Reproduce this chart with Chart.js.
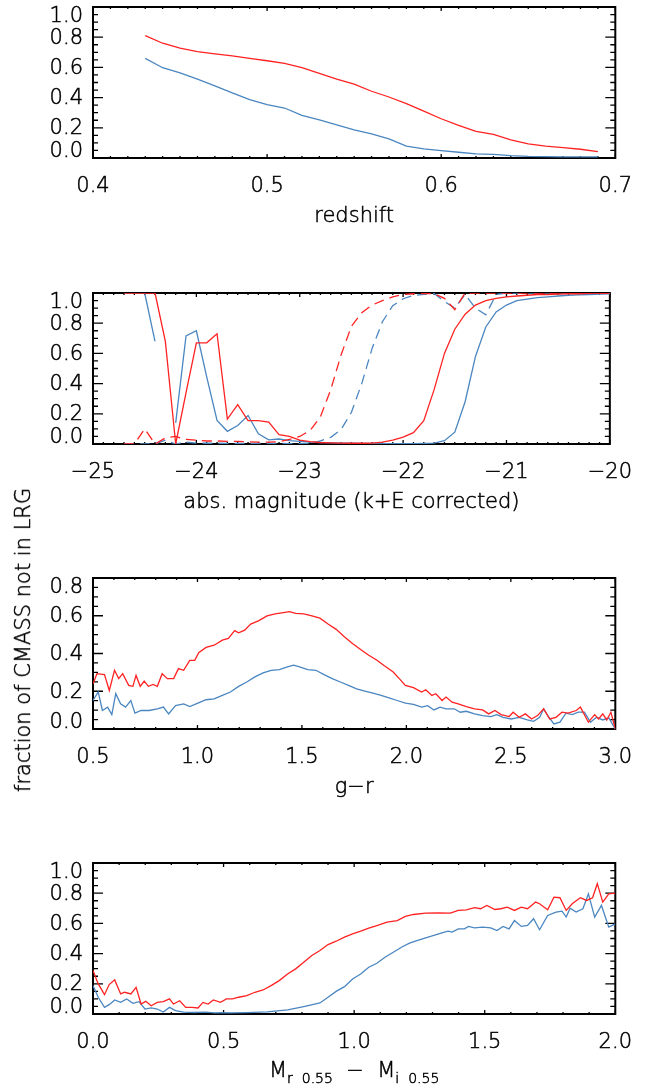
<!DOCTYPE html>
<html>
<head>
<meta charset="utf-8">
<script src="https://cdn.jsdelivr.net/npm/chart.js@4.4.1/dist/chart.umd.min.js"></script>
<style>
  html, body { margin: 0; padding: 0; background: #fff; }
  body { width: 648px; height: 1088px; position: relative; overflow: hidden; }
  canvas { position: absolute; left: 0; }
  #ytitle {
    position: absolute; left: 23px; top: 640px;
    transform: translate(-50%, -50%) rotate(-90deg);
    white-space: nowrap; font-family: "DejaVu Sans", sans-serif; font-weight: 200; font-size: 21px; color: #000;
    -webkit-text-stroke: 0.5px #000;
  }
</style>
</head>
<body>
<canvas id="p1" width="648" height="250" style="top:0px"></canvas>
<canvas id="p2" width="648" height="250" style="top:286px"></canvas>
<canvas id="p3" width="648" height="250" style="top:571px"></canvas>
<canvas id="p4" width="648" height="250" style="top:856px"></canvas>
<div id="ytitle">fraction of CMASS not in LRG</div>
<script>
// panel 1: redshift
const zBins = [0.43, 0.44, 0.45, 0.46, 0.47, 0.48, 0.49, 0.50, 0.51, 0.52, 0.53, 0.54, 0.55, 0.56,
  0.57, 0.58, 0.59, 0.60, 0.61, 0.62, 0.63, 0.64, 0.65, 0.66, 0.67, 0.68, 0.69];
const zRed = [0.81, 0.76, 0.727, 0.704, 0.689, 0.676, 0.66, 0.644, 0.627, 0.598, 0.56, 0.522, 0.489, 0.442,
  0.404, 0.36, 0.311, 0.26, 0.216, 0.176, 0.156, 0.12, 0.093, 0.078, 0.069, 0.058, 0.042];
const zBlue = [0.66, 0.598, 0.564, 0.522, 0.478, 0.431, 0.387, 0.353, 0.331, 0.282, 0.253, 0.22, 0.187, 0.16,
  0.127, 0.078, 0.06, 0.049, 0.038, 0.027, 0.024, 0.016, 0.011, 0.009, 0.008, 0.007, 0.007];
const zTicks = [0.4, 0.5, 0.6, 0.7];

// panel 2: absolute magnitude, solid and dashed curves
const magBins = [-24.7, -24.6, -24.5, -24.4, -24.3, -24.2, -24.1, -24.0, -23.9, -23.8, -23.7, -23.6,
  -23.5, -23.4, -23.3, -23.2, -23.1, -23.0, -22.9, -22.8, -22.7, -22.6, -22.5, -22.4, -22.3, -22.2,
  -22.1, -22.0, -21.9, -21.8, -21.7, -21.6, -21.5, -21.4, -21.3, -21.2, -21.1, -21.0, -20.9, -20.8,
  -20.7, -20.6, -20.5, -20.4, -20.3, -20.2, -20.1, -20.0];
const magRed = [1, 1, 1, 1, 0.68, 0.0, 0.34, 0.67, 0.67, 0.73, 0.165, 0.26,
  0.155, 0.155, 0.145, 0.062, 0.05, 0.025, 0.016, 0.01, 0.008, 0.006, 0.005, 0.005, 0.006, 0.012,
  0.025, 0.045, 0.075, 0.155, 0.36, 0.6, 0.76, 0.86, 0.92, 0.95, 0.965, 0.975, 0.98, 0.985,
  0.99, 0.99, 0.992, 0.995, 0.995, 0.997, 1, 1];
const magBlue = [1, 1, 1, 0.68, null, 0.14, 0.716, 0.75, 0.444, 0.156, 0.084, 0.122,
  0.189, 0.067, 0.027, 0.033, 0.022, 0.018, 0.012, 0.01, 0.008, 0.006, 0.005, 0.004, 0.004, 0.003,
  0.003, 0.003, 0.003, 0.004, 0.006, 0.022, 0.078, 0.28, 0.58, 0.775, 0.875, 0.92, 0.95, 0.96,
  0.97, 0.975, 0.98, 0.985, 0.987, 0.99, 0.993, 0.995];
const magRedDash = [0, 0, 0.1, 0.0, 0.04, 0.05, 0.03, 0.025, 0.02, 0.02, 0.018, 0.018,
  0.015, 0.012, 0.012, 0.015, 0.03, 0.05, 0.09, 0.18, 0.36, 0.59, 0.78, 0.87, 0.92, 0.95,
  0.975, 0.99, 0.995, 0.997, 0.995, 0.965, 0.89, 1, 1, 1, 1, 1, 1, 1,
  1, 1, 1, 1, 1, 1, 1, 1];
const magBlueDash = [0, 0, 0, 0.0, 0.025, 0.0, 0.012, 0.006, 0.005, 0.005, 0.004, 0.004,
  0.004, 0.004, 0.004, 0.004, 0.003, 0.003, 0.005, 0.02, 0.044, 0.096, 0.21, 0.4, 0.633, 0.81,
  0.916, 0.962, 0.984, 0.991, 0.996, 0.944, 0.9, 0.99, 0.9, 0.856, 0.99, 1, 1, 1,
  1, 1, 1, 1, 1, 1, 1, 1];
const magTicks = [-25, -24, -23, -22, -21, -20];

// panel 3: g-r colour
const grRedX = [0.5, 0.519, 0.555, 0.578, 0.603, 0.623, 0.642, 0.671, 0.691, 0.706, 0.726, 0.745, 0.765,
  0.788, 0.808, 0.831, 0.856, 0.886, 0.909, 0.934, 0.963, 0.987, 1.006, 1.041, 1.08, 1.119, 1.148, 1.178,
  1.197, 1.226, 1.255, 1.294, 1.333, 1.372, 1.411, 1.44, 1.47, 1.509, 1.548, 1.586, 1.625, 1.664, 1.703,
  1.742, 1.781, 1.82, 1.859, 1.898, 1.937, 1.966, 1.995, 2.034, 2.073, 2.093, 2.122, 2.141, 2.171, 2.19,
  2.219, 2.248, 2.287, 2.326, 2.365, 2.394, 2.424, 2.453, 2.492, 2.511, 2.54, 2.57, 2.599, 2.628, 2.657,
  2.686, 2.716, 2.745, 2.774, 2.813, 2.833, 2.871, 2.901, 2.92, 2.94, 2.959, 2.979, 3.0];
const grRed = [0.24, 0.293, 0.288, 0.204, 0.311, 0.267, 0.293, 0.231, 0.226, 0.284, 0.226, 0.254, 0.226,
  0.236, 0.226, 0.293, 0.267, 0.267, 0.32, 0.311, 0.364, 0.364, 0.404, 0.432, 0.444, 0.471, 0.48, 0.521,
  0.51, 0.524, 0.556, 0.574, 0.599, 0.61, 0.617, 0.622, 0.613, 0.61, 0.599, 0.587, 0.556, 0.528, 0.489,
  0.453, 0.421, 0.391, 0.364, 0.332, 0.302, 0.267, 0.231, 0.219, 0.196, 0.208, 0.178, 0.187, 0.151, 0.169,
  0.142, 0.133, 0.119, 0.107, 0.101, 0.08, 0.098, 0.076, 0.066, 0.089, 0.062, 0.08, 0.053, 0.071, 0.107,
  0.053, 0.062, 0.089, 0.084, 0.098, 0.116, 0.036, 0.076, 0.053, 0.08, 0.048, 0.089, 0.0];
const grBlueX = [0.5, 0.525, 0.545, 0.57, 0.59, 0.609, 0.632, 0.656, 0.681, 0.701, 0.73, 0.769, 0.808,
  0.837, 0.862, 0.895, 0.934, 0.963, 1.002, 1.041, 1.08, 1.119, 1.158, 1.197, 1.236, 1.275, 1.314, 1.353,
  1.392, 1.431, 1.46, 1.489, 1.528, 1.567, 1.606, 1.645, 1.684, 1.723, 1.762, 1.801, 1.84, 1.879, 1.917,
  1.956, 1.995, 2.034, 2.073, 2.102, 2.132, 2.161, 2.19, 2.229, 2.258, 2.287, 2.326, 2.365, 2.404, 2.433,
  2.463, 2.502, 2.54, 2.579, 2.609, 2.638, 2.657, 2.677, 2.706, 2.735, 2.764, 2.794, 2.823, 2.852, 2.881,
  2.91, 2.94, 2.969, 3.0];
const grBlue = [0.151, 0.196, 0.098, 0.116, 0.076, 0.187, 0.133, 0.116, 0.151, 0.084, 0.098, 0.098, 0.107,
  0.116, 0.08, 0.124, 0.133, 0.119, 0.137, 0.155, 0.16, 0.178, 0.196, 0.226, 0.249, 0.276, 0.297, 0.311,
  0.315, 0.329, 0.338, 0.329, 0.315, 0.311, 0.288, 0.267, 0.249, 0.231, 0.213, 0.201, 0.19, 0.178, 0.165,
  0.151, 0.137, 0.13, 0.116, 0.124, 0.101, 0.116, 0.107, 0.107, 0.089, 0.094, 0.08, 0.071, 0.066, 0.076,
  0.062, 0.053, 0.062, 0.048, 0.041, 0.062, 0.107, 0.071, 0.027, 0.036, 0.084, 0.076, 0.089, 0.089, 0.036,
  0.062, 0.048, 0.059, 0.0];
const grTicks = [0.5, 1.0, 1.5, 2.0, 2.5, 3.0];

// panel 4: M_r - M_i at z=0.55
const riRedX = [0, 0.02, 0.044, 0.062, 0.083, 0.106, 0.121, 0.145, 0.165, 0.184, 0.202, 0.223, 0.246,
  0.269, 0.293, 0.308, 0.332, 0.355, 0.379, 0.402, 0.421, 0.441, 0.461, 0.488, 0.511, 0.534, 0.558, 0.589,
  0.62, 0.651, 0.682, 0.713, 0.745, 0.776, 0.807, 0.838, 0.869, 0.9, 0.931, 0.963, 0.994, 1.025, 1.056,
  1.087, 1.126, 1.165, 1.196, 1.227, 1.274, 1.321, 1.368, 1.399, 1.43, 1.461, 1.484, 1.508, 1.539, 1.562,
  1.586, 1.614, 1.64, 1.664, 1.695, 1.71, 1.741, 1.765, 1.788, 1.812, 1.835, 1.866, 1.89, 1.913, 1.931,
  1.952, 1.975, 2.0];
const riRed = [0.288, 0.199, 0.128, 0.195, 0.226, 0.133, 0.144, 0.133, 0.177, 0.066, 0.084, 0.055, 0.077,
  0.082, 0.1, 0.066, 0.088, 0.044, 0.044, 0.04, 0.077, 0.066, 0.093, 0.077, 0.1, 0.1, 0.111, 0.122,
  0.144, 0.159, 0.188, 0.221, 0.265, 0.299, 0.343, 0.387, 0.42, 0.46, 0.482, 0.509, 0.531, 0.549, 0.569,
  0.586, 0.608, 0.619, 0.646, 0.659, 0.668, 0.67, 0.668, 0.686, 0.69, 0.704, 0.697, 0.719, 0.692, 0.697,
  0.708, 0.686, 0.708, 0.697, 0.741, 0.73, 0.69, 0.774, 0.77, 0.686, 0.73, 0.77, 0.752, 0.77, 0.863,
  0.741, 0.796, 0.801];
const riBlueX = [0, 0.02, 0.044, 0.062, 0.083, 0.106, 0.129, 0.153, 0.176, 0.199, 0.223, 0.246, 0.269,
  0.293, 0.316, 0.347, 0.386, 0.433, 0.464, 0.495, 0.526, 0.589, 0.667, 0.745, 0.807, 0.869, 0.9, 0.931,
  0.963, 0.994, 1.025, 1.056, 1.087, 1.118, 1.15, 1.181, 1.212, 1.243, 1.274, 1.305, 1.336, 1.36, 1.375,
  1.399, 1.422, 1.438, 1.461, 1.492, 1.523, 1.547, 1.57, 1.593, 1.614, 1.64, 1.664, 1.687, 1.71, 1.741,
  1.773, 1.796, 1.812, 1.827, 1.85, 1.876, 1.897, 1.921, 1.947, 1.975, 2.0];
const riBlue = [0.188, 0.111, 0.044, 0.062, 0.093, 0.077, 0.1, 0.071, 0.082, 0.033, 0.04, 0.033, 0.013,
  0.044, 0.022, 0.013, 0.01, 0.012, 0.007, 0.009, 0.007, 0.009, 0.014, 0.027, 0.049, 0.073, 0.111, 0.15,
  0.181, 0.232, 0.265, 0.31, 0.336, 0.376, 0.409, 0.442, 0.469, 0.487, 0.504, 0.52, 0.538, 0.549, 0.542,
  0.564, 0.564, 0.58, 0.571, 0.575, 0.571, 0.553, 0.58, 0.564, 0.619, 0.58, 0.586, 0.631, 0.558, 0.653,
  0.675, 0.681, 0.642, 0.701, 0.675, 0.697, 0.796, 0.642, 0.719, 0.575, 0.597];
const riTicks = [0.0, 0.5, 1.0, 1.5, 2.0];

const FAMILY = '"DejaVu Sans", "Liberation Sans", sans-serif';
const WEIGHT = '200';
const STROKE = 0.5;
const RED = '#ff2222';
const BLUE = '#4a86c0';

function pairs(xs, ys) {
  return xs.map((x, i) => ({ x: x, y: ys[i] }));
}

function fmt(dec) {
  return v => (v < 0 ? '\u2212' : '') + Math.abs(v).toFixed(dec);
}

function label(ctx, text, x, y) {
  ctx.fillText(text, x, y);
  ctx.strokeText(text, x, y);
}

// IDL-style box: inward ticks on all four sides, y labels and x title drawn by hand
const idlFrame = {
  id: 'idlFrame',
  beforeDatasetsDraw(chart, args, o) {
    const { ctx, chartArea: a, scales: { x, y } } = chart;
    ctx.save();
    ctx.strokeStyle = '#000';
    ctx.lineWidth = 1.3;
    const ticks = (scale, step, len, horiz) => {
      const n = Math.round((scale.max - scale.min) / step);
      for (let i = 0; i <= n; i++) {
        const p = scale.getPixelForValue(scale.min + i * step);
        if (horiz) {
          ctx.moveTo(p, a.bottom); ctx.lineTo(p, a.bottom - len);
          ctx.moveTo(p, a.top); ctx.lineTo(p, a.top + len);
        } else {
          ctx.moveTo(a.left, p); ctx.lineTo(a.left + len, p);
          ctx.moveTo(a.right, p); ctx.lineTo(a.right - len, p);
        }
      }
    };
    ctx.beginPath();
    ticks(x, o.xMinor, 2, true);
    ticks(x, o.xMajor, 4, true);
    ticks(y, o.yMinor, 5, false);
    ticks(y, o.yMajor, 10, false);
    ctx.stroke();
    ctx.lineWidth = 2;
    ctx.strokeRect(a.left, a.top, a.right - a.left, a.bottom - a.top);

    ctx.fillStyle = '#000';
    ctx.lineWidth = STROKE;
    ctx.font = WEIGHT + ' 21px ' + FAMILY;
    ctx.textAlign = 'right';
    ctx.textBaseline = 'middle';
    const n = Math.round((y.max - y.min) / o.yMajor);
    for (let i = 0; i <= n; i++) {
      const v = y.min + i * o.yMajor;
      let py = y.getPixelForValue(v) + 1;
      if (i === 0) py -= 7;
      if (i === n) py += 9;
      label(ctx, v.toFixed(1), a.left - 10, py);
    }
    if (o.title) {
      ctx.textAlign = 'center';
      label(ctx, o.title, (a.left + a.right) / 2, a.bottom + 58.4);
    }
    ctx.restore();
  }
};

// x title with subscripts for the last panel
const subTitle = {
  id: 'subTitle',
  afterDraw(chart) {
    const { ctx, chartArea: a } = chart;
    const parts = [
      ['M', 21, 0], ['r', 14, 6], ['  0.55', 14, 6], ['  \u2212  ', 21, 0],
      ['M', 21, 0], ['i', 14, 6], ['  0.55', 14, 6]
    ];
    ctx.save();
    ctx.fillStyle = '#000';
    ctx.strokeStyle = '#000';
    ctx.lineWidth = STROKE;
    ctx.textBaseline = 'alphabetic';
    ctx.textAlign = 'left';
    let w = 0;
    parts.forEach(p => { ctx.font = WEIGHT + ' ' + p[1] + 'px ' + FAMILY; w += ctx.measureText(p[0]).width; });
    let px = (a.left + a.right) / 2 - w / 2;
    const base = a.bottom + 63;
    parts.forEach(p => {
      ctx.font = WEIGHT + ' ' + p[1] + 'px ' + FAMILY;
      label(ctx, p[0], px, base + p[2]);
      px += ctx.measureText(p[0]).width;
    });
    ctx.restore();
  }
};

function makePanel(id, datasets, xMin, xMax, xTicks, dec, yMax, frame, extra) {
  return new Chart(document.getElementById(id), {
    type: 'line',
    data: { datasets: datasets },
    options: {
      responsive: false,
      animation: false,
      events: [],
      layout: { padding: { top: 7, right: 26, bottom: 0, left: 0 } },
      elements: { point: { radius: 0 }, line: { borderWidth: 1.3, tension: 0 } },
      plugins: { legend: { display: false }, tooltip: { enabled: false }, idlFrame: frame },
      scales: {
        x: {
          type: 'linear', min: xMin, max: xMax,
          afterBuildTicks: s => { s.ticks = xTicks.map(v => ({ value: v })); },
          afterFit: s => { s.height = 92; },
          grid: { display: false, drawTicks: false },
          border: { display: false },
          ticks: { color: '#000', font: { family: FAMILY, size: 21, weight: WEIGHT }, padding: 16,
                   textStrokeColor: '#000', textStrokeWidth: STROKE,
                   maxRotation: 0, autoSkip: false, callback: fmt(dec) }
        },
        y: {
          type: 'linear', min: 0, max: yMax,
          afterFit: s => { s.width = 93; },
          grid: { display: false, drawTicks: false },
          border: { display: false },
          ticks: { display: false }
        }
      }
    },
    plugins: [idlFrame].concat(extra || [])
  });
}

function line(points, color, dash) {
  return { data: points, borderColor: color, borderWidth: 1.3, borderDash: dash || [], fill: false, spanGaps: false };
}

makePanel('p1', [line(pairs(zBins, zRed), RED), line(pairs(zBins, zBlue), BLUE)],
  0.4, 0.7, zTicks, 1, 1.0, { xMajor: 0.1, xMinor: 0.01, yMajor: 0.2, yMinor: 0.05, title: 'redshift' });

makePanel('p2', [
    line(pairs(magBins, magRed), RED),
    line(pairs(magBins, magRedDash), RED, [10, 6]),
    line(pairs(magBins, magBlue), BLUE),
    line(pairs(magBins, magBlueDash), BLUE, [10, 6])
  ],
  -25, -20, magTicks, 0, 1.0,
  { xMajor: 1, xMinor: 0.1, yMajor: 0.2, yMinor: 0.05, title: 'abs. magnitude (k+E corrected)' });

makePanel('p3', [line(pairs(grRedX, grRed), RED), line(pairs(grBlueX, grBlue), BLUE)],
  0.5, 3.0, grTicks, 1, 0.8, { xMajor: 0.5, xMinor: 0.1, yMajor: 0.2, yMinor: 0.05, title: 'g\u2212r' });

makePanel('p4', [line(pairs(riRedX, riRed), RED), line(pairs(riBlueX, riBlue), BLUE)],
  0.0, 2.0, riTicks, 1, 1.0, { xMajor: 0.5, xMinor: 0.1, yMajor: 0.2, yMinor: 0.05 }, [subTitle]);
</script>
</body>
</html>
